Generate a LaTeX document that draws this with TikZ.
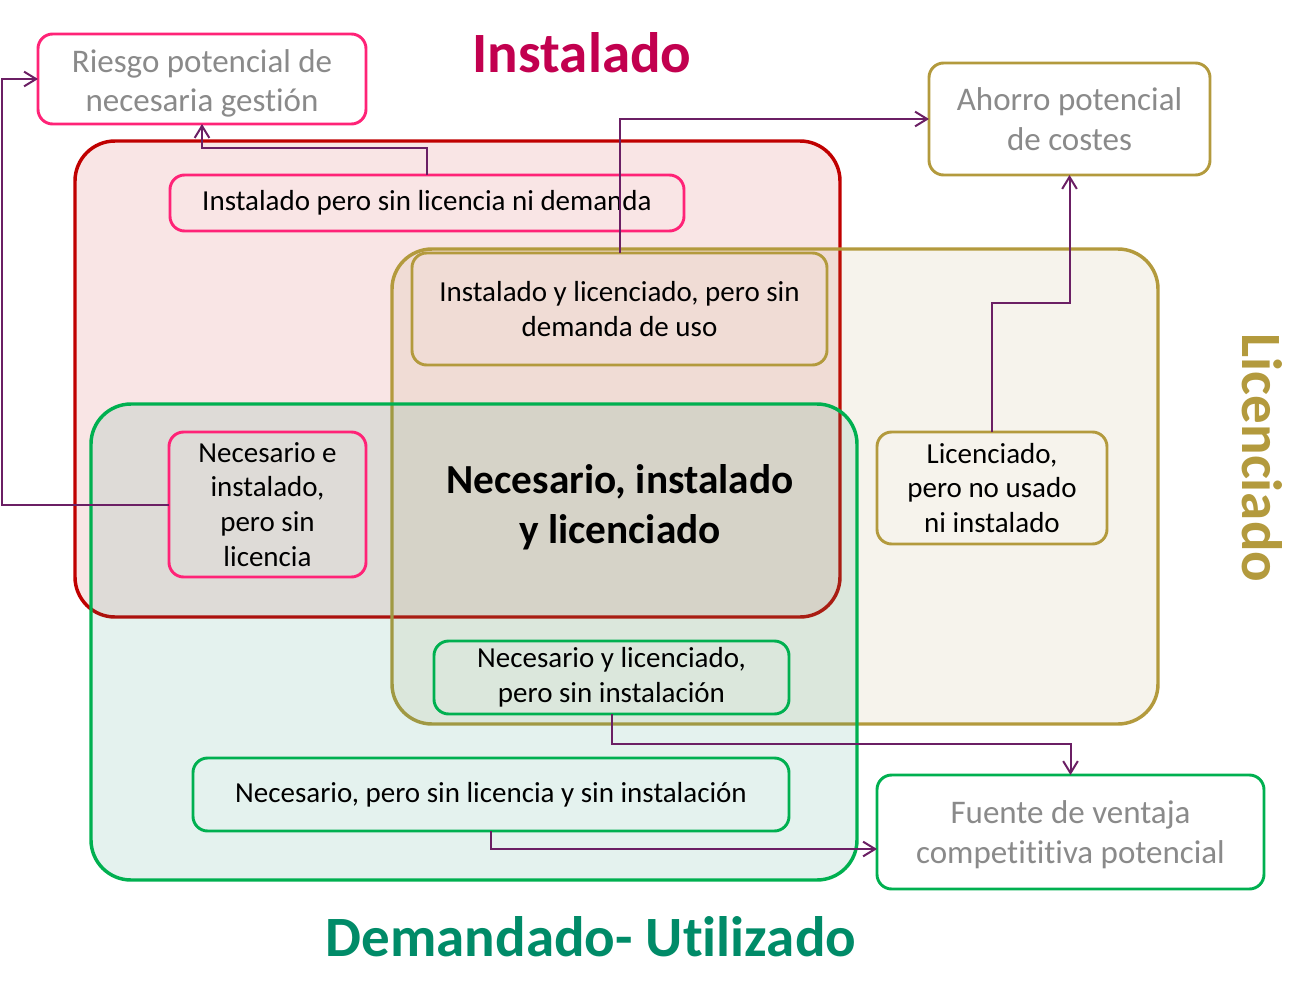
\documentclass[tikz,border=0pt]{standalone}
\usepackage{fontspec}
\setmainfont[Ligatures={NoCommon,NoRare,NoContextual},Contextuals={NoAlternate}]{Carlito}
\usetikzlibrary{arrows.meta}
\definecolor{redline}{HTML}{C00000}
\definecolor{redfill}{HTML}{C00000}
\definecolor{goldline}{HTML}{B39A3D}
\definecolor{goldfill}{RGB}{165,135,65}
\definecolor{greenline}{HTML}{00B050}
\definecolor{greenfill}{RGB}{30,147,113}
\definecolor{pinkline}{HTML}{FF2377}
\definecolor{purp}{HTML}{6B1F64}
\definecolor{graytxt}{HTML}{8A8A8A}
\definecolor{titlered}{HTML}{C2004F}
\definecolor{titlegreen}{HTML}{008B68}
\newcommand\blacktxt{\fontsize{21.75}{26.1}\selectfont}
\newcommand\greytxt{\fontsize{24.75}{29.7}\selectfont}
\newcommand\centertxt{\fontsize{31}{37.5}\selectfont\bfseries}
\newcommand\titletxt{\fontsize{42.75}{50}\selectfont\bfseries}
\newcommand\tisep{t\kern0pt i}
\tikzset{
  region/.style={draw, line width=2.6pt, rounded corners=30pt, inner sep=0pt, outer sep=0pt},
  item/.style={draw, line width=2.2pt, rounded corners=11pt, inner sep=0pt, outer sep=0pt, align=center, font=\blacktxt},
  result/.style={item, fill=white, text=graytxt, font=\greytxt},
  conn/.style={draw=purp, line width=1.5pt, -{Straight Barb[length=9pt,width=11pt]}},
  title/.style={font=\titletxt, inner sep=0pt}
}
\begin{document}
\begin{tikzpicture}[x=0.75pt, y=-0.75pt]
\useasboundingbox (0,0) rectangle (1315,1007);
% regions
\node[region, draw=redline, fill=redfill, fill opacity=0.1, minimum width=573.75pt, minimum height=357pt] (instreg) at (457.5,379) {};
\node[region, draw=goldline, fill=goldfill, fill opacity=0.1, minimum width=574.5pt, minimum height=356.25pt] (licreg) at (775,486.5) {};
\node[region, draw=greenline, fill=greenfill, fill opacity=0.12, minimum width=574.5pt, minimum height=357pt] (demreg) at (474,642) {};
% titles
\node[title, text=titlered] (tinst) at (582,53) {Instalado};
\node[title, text=goldline, rotate=-90] (tlic) at (1262,458) {Licenciado};
\node[title, text=titlegreen] (tdem) at (591,937) {Demandado- U\tisep lizado};
% outcome boxes
\node[result, draw=pinkline, minimum width=246pt, minimum height=67.5pt] (riesgo) at (202,79) {\rule{0pt}{24pt}Riesgo potencial de\\necesaria ges\tisep ón};
\node[result, draw=goldline, minimum width=210.75pt, minimum height=84pt] (ahorro) at (1069.5,119) {Ahorro potencial\\de costes};
\node[result, draw=greenline, minimum width=290.25pt, minimum height=85.5pt] (fuente) at (1070.5,832) {\rule{0pt}{21pt}Fuente de ventaja\\compe\tisep \tisep \tisep va potencial};
% category boxes
\node[item, draw=pinkline, minimum width=385.5pt, minimum height=42pt] (ipsl) at (427,203) {Instalado pero sin licencia ni demanda};
\node[item, draw=goldline, minimum width=311.25pt, minimum height=84pt] (iyl) at (619.5,309) {Instalado y licenciado, pero sin\\demanda de uso};
\node[item, draw=pinkline, minimum width=147.75pt, minimum height=108.75pt] (nei) at (267.5,504.5) {Necesario e\\instalado,\\pero sin\\licencia};
\node[item, draw=goldline, minimum width=172.5pt, minimum height=84pt] (lic) at (992,488) {Licenciado,\\pero no usado\\ni instalado};
\node[item, draw=greenline, minimum width=266.25pt, minimum height=54.75pt] (nyl) at (611.5,677.5) {Necesario y licenciado,\\pero sin instalación};
\node[item, draw=greenline, minimum width=447pt, minimum height=54.75pt] (nps) at (491,794.5) {Necesario, pero sin licencia y sin instalación};
\node[font=\centertxt, align=center, inner sep=0pt] (nil) at (620,507) {Necesario, instalado\\y licenciado};
% connectors
\coordinate (leftx) at (2,0);
\draw[conn] (nei.west) -- (nei.west -| leftx) |- (riesgo.west);
\draw[conn] (ipsl.north) -- ++(0,-27) -| (riesgo.south);
\draw[conn] (iyl.north) |- (ahorro.west);
\draw[conn] (lic.north) -- ++(0,-129) -| (ahorro.south);
\draw[conn] (nyl.south) -- ++(0,30) -| (fuente.north);
\draw[conn] (nps.south) |- ([yshift=-12.75pt]fuente.west);
\end{tikzpicture}
\end{document}
